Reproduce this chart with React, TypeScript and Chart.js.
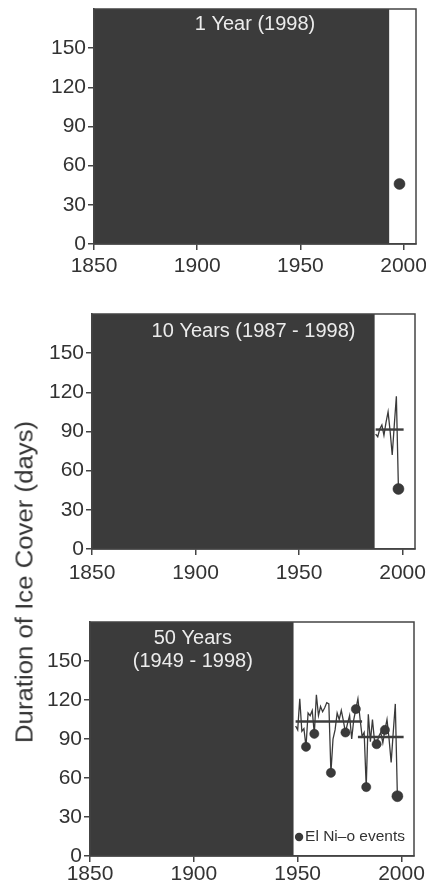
import React, { useEffect, useRef } from "react";
import { Chart, registerables } from "chart.js";

Chart.register(...registerables);

// ---------- data ----------
const YEARS = [
  1949, 1950, 1951, 1952, 1953, 1954, 1955, 1956, 1957, 1958,
  1959, 1960, 1961, 1962, 1963, 1964, 1965, 1966, 1967, 1968,
  1969, 1970, 1971, 1972, 1973, 1974, 1975, 1976, 1977, 1978,
  1979, 1980, 1981, 1982, 1983, 1984, 1985, 1986, 1987, 1988,
  1989, 1990, 1991, 1992, 1993, 1994, 1995, 1996, 1997, 1998,
];
const ICE_DAYS = [
  100, 97, 121, 96, 98, 84, 110, 108, 112, 94,
  124, 108, 115, 111, 114, 118, 117, 64, 90, 97,
  110, 105, 112, 104, 95, 102, 108, 90, 105, 113,
  121, 106, 92, 95, 53, 109, 88, 105, 88, 86,
  92, 95, 87, 97, 105, 90, 72, 95, 117, 46,
];
const ELNINO_YEARS = [1954, 1958, 1966, 1973, 1978, 1983, 1988, 1992, 1998];

const X_TICKS = [1850, 1900, 1950, 2000];
const Y_TICKS = [0, 30, 60, 90, 120, 150];
const X_RANGE = [1850, 2006];
const Y_RANGE = [0, 180];

const PANEL_TITLES = [["1 Year (1998)"], ["10 Years (1987 - 1998)"], ["50 Years", "(1949 - 1998)"]];
const PANEL_FIRST_YEARS = [1998, 1987, 1949];
const PANEL_SHADE_END = [1993, 1986.5, 1948];
const PANEL_TITLE_YEAR = [1928, 1928, 1899.5];
const PANEL_ALL_EVENTS = [false, false, true];
const PANEL_MEAN_SPANS = [[], [[1987, 2000.5]], [[1949, 1981], [1979, 2001]]];
const PANEL_MEAN_DAYS = [[], [91.5], [103.5, 91.5]];

const LEGEND_LABEL = "El Ni–o events";
const Y_TITLE = "Duration of Ice Cover (days)";

// ---------- layout / style ----------
const FONT = "'Liberation Sans', Arial, Helvetica, sans-serif";
const INK = "#333333";
const SHADE = "#3b3b3b";

const LAYOUT = [
  { top: 0, height: 290, padTop: 9, padRight: 10, yW: 94, xH: 46, xPad: 4, titleDy: [15] },
  { top: 290, height: 310, padTop: 24, padRight: 11, yW: 92, xH: 51, xPad: 6, titleDy: [17] },
  { top: 600, height: 288, padTop: 22, padRight: 12, yW: 90, xH: 32, xPad: 0, titleDy: [16, 39] },
];

function makeConfig(p: number): any {
  const L = LAYOUT[p];
  const first = PANEL_FIRST_YEARS[p];
  const series = YEARS.map((y, i) => ({ x: y, y: ICE_DAYS[i] })).filter((d) => d.x >= first);
  const lastYear = YEARS[YEARS.length - 1];
  const evYears = PANEL_ALL_EVENTS[p] ? ELNINO_YEARS : ELNINO_YEARS.filter((y) => y === lastYear);
  const events = evYears.map((y) => ({ x: y, y: ICE_DAYS[YEARS.indexOf(y)] }));

  const datasets: any[] = [
    {
      type: "scatter",
      data: events,
      pointRadius: (c: any) => (c.raw && c.raw.x === lastYear ? 5.5 : 4.6),
      pointBackgroundColor: "#3a3a3a",
      pointBorderColor: "#2a2a2a",
      pointBorderWidth: 0.5,
      showLine: false,
    },
  ];
  PANEL_MEAN_SPANS[p].forEach((span, k) => {
    datasets.push({
      type: "line",
      data: [
        { x: span[0], y: PANEL_MEAN_DAYS[p][k] },
        { x: span[1], y: PANEL_MEAN_DAYS[p][k] },
      ],
      borderColor: "#3d3d3d",
      borderWidth: 2.4,
      pointRadius: 0,
    });
  });
  datasets.push({
    type: "line",
    data: series,
    borderColor: "#3a3a3a",
    borderWidth: 1.3,
    pointRadius: 0,
    tension: 0,
  });

  const shadePlugin = {
    id: "shade" + p,
    beforeDatasetsDraw(chart: any) {
      const { ctx, chartArea, scales } = chart;
      const x0 = scales.x.getPixelForValue(X_RANGE[0]);
      const x1 = scales.x.getPixelForValue(PANEL_SHADE_END[p]);
      ctx.save();
      ctx.fillStyle = SHADE;
      ctx.fillRect(x0, chartArea.top, x1 - x0, chartArea.bottom - chartArea.top);
      ctx.restore();
    },
    afterDraw(chart: any) {
      const { ctx, chartArea, scales } = chart;
      ctx.save();
      ctx.strokeStyle = "#444";
      ctx.lineWidth = 1.5;
      ctx.strokeRect(chartArea.left, chartArea.top, chartArea.right - chartArea.left, chartArea.bottom - chartArea.top);
      // panel title
      ctx.fillStyle = "#ececec";
      ctx.font = `20px ${FONT}`;
      ctx.textAlign = "center";
      ctx.textBaseline = "middle";
      const tx = scales.x.getPixelForValue(PANEL_TITLE_YEAR[p]);
      PANEL_TITLES[p].forEach((t, i) => {
        ctx.fillText(t, tx, chartArea.top + L.titleDy[i]);
      });
      // legend
      if (PANEL_ALL_EVENTS[p]) {
        ctx.font = `15.5px ${FONT}`;
        ctx.fillStyle = INK;
        ctx.textAlign = "right";
        const tr = chartArea.right - 9;
        const ty = chartArea.bottom - 19;
        ctx.fillText(LEGEND_LABEL, tr, ty);
        const w = ctx.measureText(LEGEND_LABEL).width;
        ctx.beginPath();
        ctx.arc(tr - w - 6, ty, 4.2, 0, Math.PI * 2);
        ctx.fillStyle = "#3a3a3a";
        ctx.fill();
      }
      ctx.restore();
    },
  };

  return {
    type: "line",
    data: { datasets },
    plugins: [shadePlugin],
    options: {
      animation: false,
      responsive: false,
      maintainAspectRatio: false,
      devicePixelRatio: 1,
      layout: { padding: { top: L.padTop, right: L.padRight, left: 0, bottom: 0 } },
      plugins: { legend: { display: false }, tooltip: { enabled: false }, title: { display: false } },
      scales: {
        x: {
          type: "linear",
          min: X_RANGE[0],
          max: X_RANGE[1],
          afterBuildTicks: (s: any) => {
            s.ticks = X_TICKS.map((v) => ({ value: v }));
          },
          afterFit: (s: any) => {
            s.height = L.xH;
            s.paddingLeft = 0;
            s.paddingRight = 0;
            s.paddingTop = 0;
            s.paddingBottom = 0;
          },
          ticks: {
            callback: (v: any) => String(v),
            font: { family: FONT, size: 21 },
            color: INK,
            padding: L.xPad,
            maxRotation: 0,
            autoSkip: false,
          },
          grid: { drawOnChartArea: false, drawTicks: true, tickLength: 6, color: "#444", lineWidth: 1.5 },
          border: { display: true, color: "#444", width: 1.5 },
        },
        y: {
          type: "linear",
          min: Y_RANGE[0],
          max: Y_RANGE[1],
          afterBuildTicks: (s: any) => {
            s.ticks = Y_TICKS.map((v) => ({ value: v }));
          },
          afterFit: (s: any) => {
            s.width = L.yW;
            s.paddingLeft = 0;
            s.paddingRight = 0;
            s.paddingTop = 0;
            s.paddingBottom = 0;
          },
          ticks: {
            callback: (v: any) => String(v),
            font: { family: FONT, size: 21 },
            color: INK,
            padding: 2,
            autoSkip: false,
          },
          grid: { drawOnChartArea: false, drawTicks: true, tickLength: 6, color: "#444", lineWidth: 1.5 },
          border: { display: true, color: "#444", width: 1.5 },
        },
      },
    },
  };
}

export default function App() {
  const r0 = useRef<HTMLCanvasElement | null>(null);
  const r1 = useRef<HTMLCanvasElement | null>(null);
  const r2 = useRef<HTMLCanvasElement | null>(null);

  useEffect(() => {
    const refs = [r0, r1, r2];
    const charts = refs.map((r, p) => new Chart(r.current as HTMLCanvasElement, makeConfig(p)));
    return () => charts.forEach((c) => c.destroy());
  }, []);

  const refs = [r0, r1, r2];
  return (
    <div style={{ position: "absolute", left: 0, top: 0, width: 426, height: 888, background: "#fff", overflow: "hidden" }}>
      {LAYOUT.map((L, p) => (
        <canvas
          key={p}
          ref={refs[p]}
          width={426}
          height={L.height}
          style={{ position: "absolute", left: 0, top: L.top, width: 426, height: L.height }}
        />
      ))}
      <div
        style={{
          position: "absolute",
          left: 25,
          top: 582,
          transform: "translate(-50%, -50%) rotate(-90deg) scaleX(1.12)",
          whiteSpace: "nowrap",
          fontFamily: FONT,
          fontSize: 23,
          lineHeight: 1,
          color: INK,
        }}
      >
        {Y_TITLE}
      </div>
    </div>
  );
}
